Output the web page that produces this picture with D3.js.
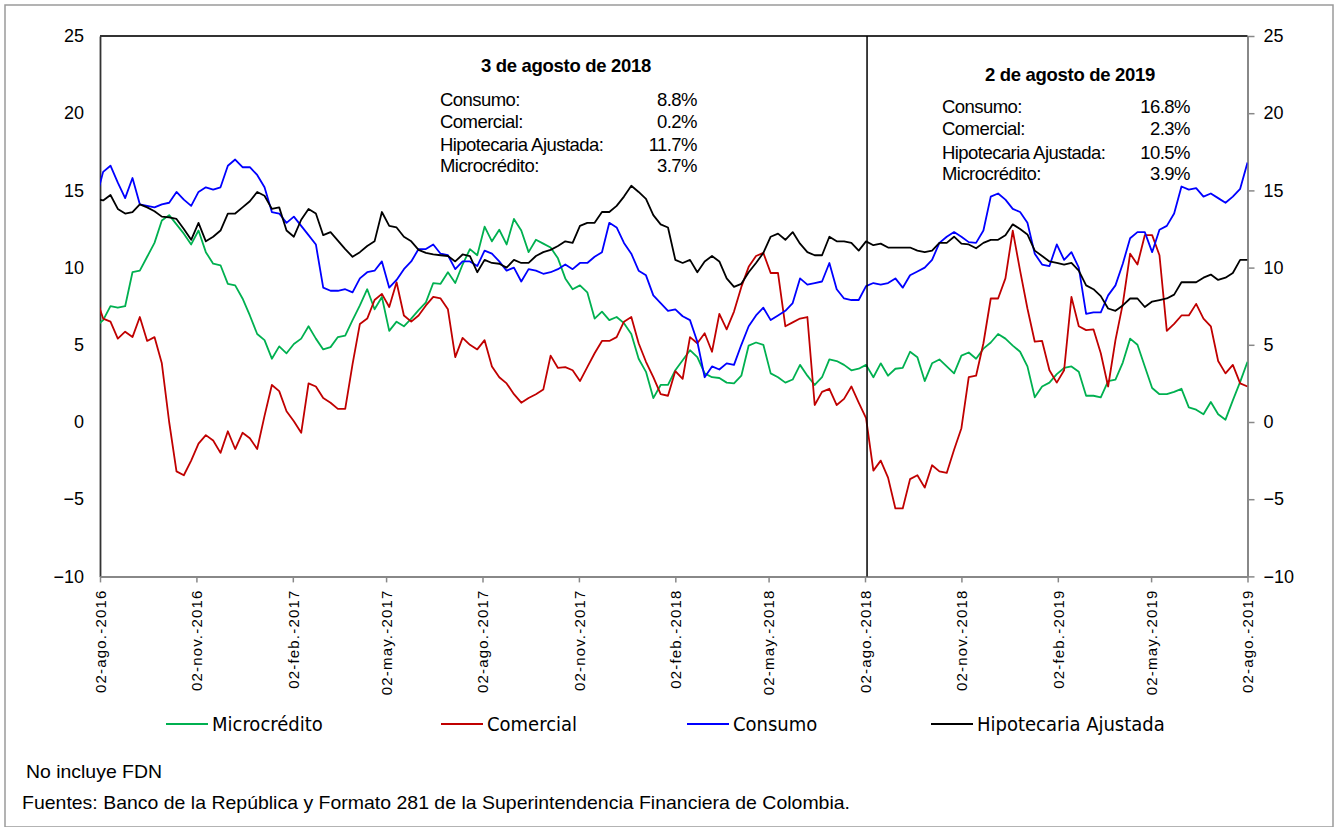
<!DOCTYPE html>
<html>
<head>
<meta charset="utf-8">
<script src="https://cdn.jsdelivr.net/npm/d3@7"></script>
<style>
  body { margin: 0; background: #fff; }
  svg { display: block; }
</style>
</head>
<body>
<div id="chart"></div>
<script>
// weekly series (Friday), first point 29-jul-2016, last 02-ago-2019
var firstDate = new Date(2016, 6, 29);

var microcredito = [
  6.2, 6.6, 7.5, 7.4, 7.5, 9.7, 9.8, 10.7, 11.6, 13.05,
  13.4, 12.8, 12.2, 11.5, 12.4, 11.0, 10.25, 10.15, 8.95, 8.85,
  8.0, 6.9, 5.7, 5.3, 4.1, 4.9, 4.45, 5.05, 5.4, 6.2,
  5.4, 4.7, 4.85, 5.5, 5.6, 6.6, 7.55, 8.6, 7.3, 8.1,
  5.9, 6.5, 6.2, 6.7, 7.25, 7.75, 9.0, 8.95, 9.7, 9.0,
  10.2, 11.2, 10.8, 12.65, 11.7, 12.45, 11.5, 13.15, 12.4, 11.0,
  11.8, 11.55, 11.3, 10.6, 9.3, 8.6, 8.85, 8.4, 6.7, 7.15,
  6.6, 6.8, 6.4, 5.7, 4.1, 3.25, 1.55, 2.4, 2.4, 3.35,
  4.0, 4.65, 4.2, 3.15, 2.9, 2.85, 2.55, 2.5, 3.0, 4.95,
  5.15, 5.0, 3.15, 2.9, 2.55, 2.75, 3.7, 3.0, 2.4, 2.9,
  4.05, 3.95, 3.7, 3.35, 3.45, 3.7, 2.9, 3.8, 3.0, 3.45,
  3.5, 4.55, 4.2, 2.65, 3.8, 4.05, 3.6, 3.15, 4.3, 4.5,
  4.1, 4.75, 5.15, 5.7, 5.4, 4.95, 4.55, 3.6, 1.6, 2.3,
  2.55, 3.1, 3.5, 3.6, 3.25, 1.7, 1.7, 1.6, 2.65, 2.75,
  3.85, 5.4, 5.0, 3.6, 2.2, 1.8, 1.8, 1.95, 2.15, 0.95,
  0.8, 0.5, 1.3, 0.5, 0.15, 1.4, 2.6, 3.9
];

var comercial = [
  8.1, 6.7, 6.5, 5.4, 5.85, 5.5, 6.8, 5.25, 5.5, 3.8,
  0.0, -3.2, -3.45, -2.5, -1.4, -0.85, -1.2, -2.0, -0.6, -1.75,
  -0.7, -1.05, -1.75, 0.4, 2.4, 2.0, 0.7, 0.05, -0.7, 2.5,
  2.3, 1.55, 1.25, 0.85, 0.85, 3.75, 6.35, 6.7, 7.9, 8.3,
  7.45, 9.05, 6.9, 6.5, 6.9, 7.55, 8.1, 8.0, 7.3, 4.2,
  5.45, 5.0, 4.7, 5.3, 3.6, 2.9, 2.5, 1.8, 1.25, 1.55,
  1.8, 2.1, 4.3, 3.5, 3.55, 3.35, 2.65, 3.55, 4.45, 5.25,
  5.25, 5.5, 6.5, 6.8, 5.1, 3.9, 2.9, 1.8, 1.7, 3.3,
  2.8, 5.5, 5.1, 5.75, 4.55, 7.0, 6.0, 7.15, 8.75, 10.05,
  10.75, 10.95, 9.65, 9.65, 6.2, 6.45, 6.7, 6.8, 1.1, 1.95,
  2.15, 1.1, 1.5, 2.3, 1.25, 0.25, -3.15, -2.5, -3.6, -5.6,
  -5.6, -3.7, -3.45, -4.25, -2.8, -3.2, -3.3, -1.8, -0.4, 2.9,
  3.0, 5.1, 8.0, 8.0, 9.3, 12.4, 9.8, 7.35, 5.2, 5.25,
  3.35, 2.55, 3.35, 8.1, 6.2, 5.95, 6.0, 4.45, 2.3, 5.3,
  7.65, 10.9, 10.2, 12.1, 12.1, 10.8, 5.9, 6.35, 6.9, 6.9,
  7.65, 6.7, 6.2, 3.95, 3.15, 3.7, 2.5, 2.3
];

var consumo = [
  14.4, 16.2, 16.6, 15.5, 14.5, 15.8, 14.1, 14.0, 13.9, 14.1,
  14.2, 14.9, 14.4, 14.0, 14.9, 15.2, 15.05, 15.2, 16.6, 17.0,
  16.5, 16.5, 16.0, 15.2, 13.6, 13.5, 12.9, 13.3, 12.7, 12.1,
  11.5, 8.7, 8.5, 8.5, 8.6, 8.4, 9.3, 9.7, 9.8, 10.4,
  8.7, 9.2, 9.9, 10.4, 11.2, 11.2, 11.5, 10.9, 10.8, 9.9,
  10.4, 10.4, 10.1, 11.1, 10.9, 10.4, 9.8, 10.0, 9.1, 9.9,
  9.8, 9.6, 9.7, 9.9, 10.2, 9.9, 10.3, 10.3, 10.7, 11.0,
  12.9, 12.6, 11.6, 10.9, 9.8, 9.5, 8.2, 7.7, 7.2, 7.3,
  6.85, 6.6, 5.2, 2.9, 3.6, 3.4, 3.8, 3.7, 5.0, 6.2,
  6.9, 7.4, 6.6, 6.9, 7.2, 7.7, 9.3, 8.9, 9.0, 9.1,
  10.3, 8.6, 8.0, 7.9, 7.9, 8.8, 9.0, 8.9, 9.0, 9.3,
  8.7, 9.5, 9.75, 10.0, 10.5, 11.6, 12.0, 12.3, 12.0, 11.65,
  11.6, 12.4, 14.6, 14.8, 14.4, 13.8, 13.6, 12.9, 10.9, 10.2,
  10.1, 11.5, 10.5, 11.0, 10.0, 7.0, 7.1, 7.1, 8.2, 8.85,
  10.25, 11.9, 12.3, 12.3, 11.0, 12.45, 12.7, 13.5, 15.25, 15.05,
  15.15, 14.6, 14.8, 14.5, 14.2, 14.6, 15.1, 16.8
];

var hipotecaria = [
  14.45, 14.35, 14.7, 13.8, 13.5, 13.6, 14.1, 13.9, 13.65, 13.3,
  13.25, 13.15, 12.5, 11.8, 12.9, 11.7, 12.0, 12.4, 13.5, 13.5,
  13.9, 14.3, 14.9, 14.65, 13.8, 13.9, 12.4, 12.0, 13.1, 13.8,
  13.5, 12.1, 12.3, 11.75, 11.2, 10.7, 11.0, 11.4, 11.7, 13.6,
  12.7, 12.6, 12.0, 11.7, 11.15, 10.95, 10.85, 10.8, 10.75, 10.4,
  10.85, 10.75, 9.7, 10.5, 10.3, 10.25, 10.0, 10.5, 10.3, 10.3,
  10.75, 11.0, 11.15, 11.4, 11.7, 11.6, 12.7, 12.9, 12.9, 13.6,
  13.6, 14.0, 14.6, 15.3, 14.9, 14.45, 13.4, 12.8, 12.6, 10.5,
  10.3, 10.5, 9.7, 10.4, 10.75, 10.4, 9.3, 8.75, 8.95, 9.7,
  10.3, 10.95, 12.0, 12.2, 11.8, 12.3, 11.55, 11.0, 10.8, 10.8,
  12.0, 11.7, 11.7, 11.6, 11.1, 11.7, 11.45, 11.55, 11.3, 11.3,
  11.3, 11.3, 11.1, 11.0, 11.1, 11.6, 11.6, 12.0, 11.55, 11.5,
  11.25, 11.6, 11.8, 11.8, 12.1, 12.8, 12.5, 12.15, 11.1, 10.75,
  10.4, 10.3, 10.2, 10.3, 9.8, 8.85, 8.6, 8.15, 7.35, 7.2,
  7.55, 8.0, 8.0, 7.45, 7.8, 7.9, 8.0, 8.25, 9.05, 9.05,
  9.05, 9.35, 9.55, 9.2, 9.35, 9.65, 10.5, 10.5
];

var seriesNames = ["Microcrédito", "Comercial", "Consumo", "Hipotecaria Ajustada"];
var seriesColors = ["#00B050", "#C00000", "#0000FF", "#000000"];
var seriesValues = [microcredito, comercial, consumo, hipotecaria];

var tickLabels = ["02-ago.-2016", "02-nov.-2016", "02-feb.-2017", "02-may.-2017",
  "02-ago.-2017", "02-nov.-2017", "02-feb.-2018", "02-may.-2018", "02-ago.-2018",
  "02-nov.-2018", "02-feb.-2019", "02-may.-2019", "02-ago.-2019"];
var yTicks = [-10, -5, 0, 5, 10, 15, 20, 25];

var boxLabels = ["Consumo:", "Comercial:", "Hipotecaria Ajustada:", "Microcrédito:"];
var box1Title = "3 de agosto de 2018";
var box1Values = ["8.8%", "0.2%", "11.7%", "3.7%"];
var box2Title = "2 de agosto de 2019";
var box2Values = ["16.8%", "2.3%", "10.5%", "3.9%"];
var markerDate = new Date(2018, 7, 3);

var note1 = "No incluye FDN";
var note2 = "Fuentes: Banco de la República y Formato 281 de la Superintendencia Financiera de Colombia.";

// ---- setup
var W = 1336, H = 827;
var plotL = 100, plotR = 1247.5, plotT = 36, plotB = 576.4;
var FONT = "Liberation Sans, Arial, sans-serif";

var monthIdx = {ene: 0, feb: 1, mar: 2, abr: 3, may: 4, jun: 5, jul: 6, ago: 7, sep: 8, oct: 9, nov: 10, dic: 11};
function parseTick(s) {
  var p = s.split("-");
  return new Date(+p[2], monthIdx[p[1].replace(".", "")], +p[0]);
}
var tickDates = tickLabels.map(parseTick);

// one friday per value
var dates = microcredito.map(function(d, i) { return d3.timeDay.offset(firstDate, 7 * i); });

var x = d3.scaleTime()
  .domain([tickDates[0], tickDates[tickDates.length - 1]])
  .range([plotL, plotR]);
var y = d3.scaleLinear().domain([-10, 25]).range([plotB, plotT]);

var svg = d3.select("#chart").append("svg")
  .attr("width", W)
  .attr("height", H)
  .style("font-family", FONT);

svg.append("rect")
  .attr("x", 5).attr("y", 5)
  .attr("width", 1328).attr("height", 822)
  .attr("fill", "#fff")
  .attr("stroke", "#9a9a9a")
  .attr("stroke-width", 1.5);

svg.append("clipPath").attr("id", "plotclip")
  .append("rect")
  .attr("x", plotL).attr("y", plotT - 2)
  .attr("width", plotR - plotL).attr("height", plotB - plotT + 4);

// left axis (no ticks)
var yl = svg.append("g")
  .attr("transform", "translate(" + plotL + ",0)")
  .call(d3.axisLeft(y).tickValues(yTicks).tickSize(0).tickPadding(16));
yl.select(".domain").attr("stroke", "#333").attr("stroke-width", 1.8);
yl.selectAll("text").attr("font-size", 18).attr("font-family", FONT).attr("fill", "#000");

// right axis
var yr = svg.append("g")
  .attr("transform", "translate(" + plotR + ",0)")
  .call(d3.axisRight(y).tickValues(yTicks).tickSizeInner(7).tickSizeOuter(0).tickPadding(9));
yr.select(".domain").attr("stroke", "#888").attr("stroke-width", 2);
yr.selectAll(".tick line").attr("stroke", "#888").attr("stroke-width", 1.5);
yr.selectAll("text").attr("font-size", 18).attr("font-family", FONT).attr("fill", "#000");

// top border
svg.append("line")
  .attr("x1", plotL).attr("x2", plotR)
  .attr("y1", plotT).attr("y2", plotT)
  .attr("stroke", "#333").attr("stroke-width", 1.8);

// bottom axis
var xa = svg.append("g")
  .attr("transform", "translate(0," + plotB + ")")
  .call(d3.axisBottom(x).tickValues(tickDates)
    .tickFormat(function(d, i) { return tickLabels[i]; })
    .tickSizeInner(6).tickSizeOuter(0));
xa.select(".domain").attr("stroke", "#888").attr("stroke-width", 2);
xa.selectAll(".tick line").attr("stroke", "#888").attr("stroke-width", 1.5);
xa.selectAll("text")
  .attr("font-size", 15)
  .attr("font-family", FONT)
  .attr("fill", "#000")
  .style("letter-spacing", "1.2px")
  .attr("text-anchor", "end")
  .attr("transform", "rotate(-90)")
  .attr("x", -13)
  .attr("y", 0)
  .attr("dy", "0.35em");

// series
var line = d3.line()
  .x(function(d) { return x(d.date); })
  .y(function(d) { return y(d.value); });

var plot = svg.append("g").attr("clip-path", "url(#plotclip)");
seriesValues.forEach(function(vals, k) {
  var pts = vals.map(function(v, i) { return {date: dates[i], value: v}; });
  plot.append("path")
    .datum(pts)
    .attr("fill", "none")
    .attr("stroke", seriesColors[k])
    .attr("stroke-width", 1.8)
    .attr("stroke-linejoin", "round")
    .attr("d", line);
});

// marker line
svg.append("line")
  .attr("x1", x(markerDate) + 1).attr("x2", x(markerDate) + 1)
  .attr("y1", plotT).attr("y2", plotB)
  .attr("stroke", "#000").attr("stroke-width", 1.5);

// annotation boxes
function box(cx, titleY, lx, rx, rowYs, title, values) {
  var g = svg.append("g");
  g.append("text")
    .attr("x", cx).attr("y", titleY)
    .attr("text-anchor", "middle")
    .attr("font-size", 18.5)
    .attr("font-weight", "bold")
    .style("letter-spacing", "-0.3px")
    .text(title);
  boxLabels.forEach(function(lab, i) {
    g.append("text")
      .attr("x", lx).attr("y", rowYs[i])
      .attr("font-size", 18.5)
      .style("letter-spacing", "-0.55px")
      .text(lab);
    g.append("text")
      .attr("x", rx).attr("y", rowYs[i])
      .attr("text-anchor", "end")
      .attr("font-size", 18.5)
      .style("letter-spacing", "-0.55px")
      .text(values[i]);
  });
}
box(566, 72, 440, 697, [106, 128, 151, 172], box1Title, box1Values);
box(1070, 81, 942, 1190, [113, 135, 159, 180], box2Title, box2Values);

// legend
var legendX = [166, 441, 687, 931];
var legendY = 724;
var lg = svg.append("g");
seriesNames.forEach(function(name, k) {
  lg.append("line")
    .attr("x1", legendX[k]).attr("x2", legendX[k] + 42)
    .attr("y1", legendY).attr("y2", legendY)
    .attr("stroke", seriesColors[k]).attr("stroke-width", 2);
  lg.append("text")
    .attr("x", legendX[k] + 46).attr("y", legendY)
    .attr("dy", "0.35em")
    .attr("font-size", 20)
    .style("font-family", "'DejaVu Sans Condensed', 'DejaVu Sans', sans-serif")
    .style("font-stretch", "condensed")
    .text(name);
});

// notes
svg.append("text")
  .attr("x", 26).attr("y", 778)
  .attr("font-size", 19)
  .attr("textLength", 136)
  .attr("lengthAdjust", "spacingAndGlyphs")
  .text(note1);
svg.append("text")
  .attr("x", 22).attr("y", 809)
  .attr("font-size", 19)
  .attr("textLength", 828)
  .attr("lengthAdjust", "spacingAndGlyphs")
  .text(note2);
</script>
</body>
</html>
